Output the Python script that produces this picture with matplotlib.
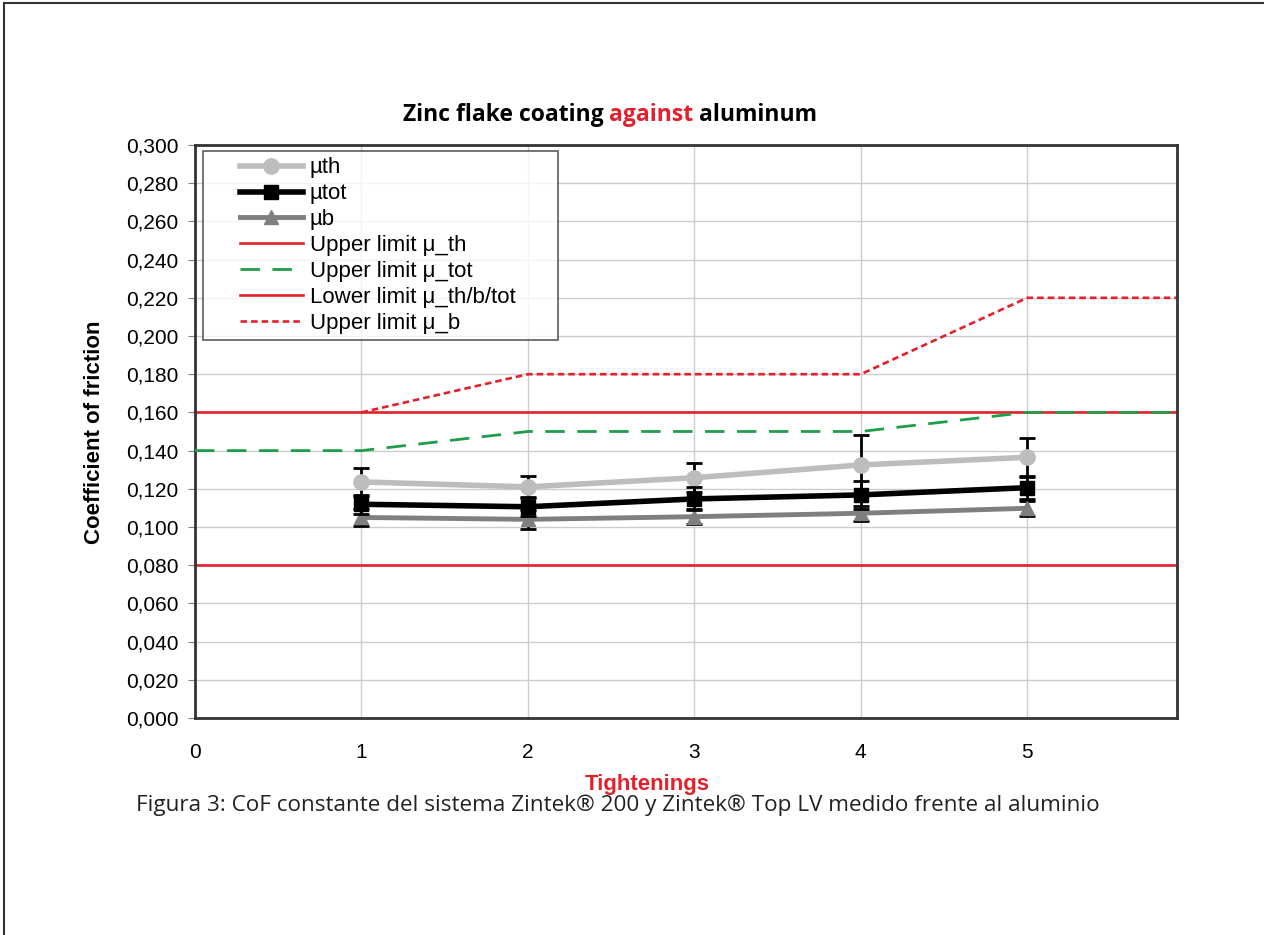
import matplotlib
matplotlib.use("Agg")
import matplotlib.pyplot as plt
from matplotlib.lines import Line2D
from matplotlib.legend_handler import HandlerLine2D
from matplotlib.ticker import FuncFormatter

# measured data (tightenings 1..5)
tightenings = [1, 2, 3, 4, 5]
mu_th = [0.1236, 0.1210, 0.1258, 0.1325, 0.1365]
mu_th_err = [0.0075, 0.0057, 0.0075, 0.0155, 0.0100]
mu_tot = [0.1119, 0.1106, 0.1147, 0.1168, 0.1206]
mu_tot_err = [0.0050, 0.0050, 0.0060, 0.0075, 0.0057]
mu_b = [0.1050, 0.1040, 0.1054, 0.1072, 0.1098]
mu_b_err = [0.0045, 0.0050, 0.0040, 0.0040, 0.0040]

# limit curves
limit_x = [0, 1, 2, 3, 4, 5, 6]
upper_th = [0.16, 0.16, 0.16, 0.16, 0.16, 0.16, 0.16]
upper_tot = [0.14, 0.14, 0.15, 0.15, 0.15, 0.16, 0.16]
lower_all = [0.08, 0.08, 0.08, 0.08, 0.08, 0.08, 0.08]
upper_b_x = [1, 2, 3, 4, 5, 6]
upper_b = [0.16, 0.18, 0.18, 0.18, 0.22, 0.22]

RED = '#e3202b'
GREEN = '#1f9e4a'
LIGHT = '#bdbdbd'
MID = '#7f7f7f'

plt.rcParams['font.family'] = ['Liberation Sans', 'DejaVu Sans']

fig = plt.figure(figsize=(12.64, 9.35), dpi=100)
ax = fig.add_axes([0.1543, 0.2321, 0.7769, 0.6128])

l_th, = ax.plot(limit_x, upper_th, color=RED, lw=1.9, zorder=2)
l_tot, = ax.plot(limit_x, upper_tot, color=GREEN, lw=2, dashes=(7, 4.5), zorder=3)
l_low, = ax.plot(limit_x, lower_all, color=RED, lw=1.9, zorder=2)
l_b, = ax.plot(upper_b_x, upper_b, color=RED, lw=1.9, dashes=(2.5, 1.5), zorder=2)

ax.errorbar(tightenings, mu_th, yerr=mu_th_err, color=LIGHT, ecolor='black', elinewidth=2,
            capsize=6, capthick=2, lw=4, marker='o', ms=11, zorder=4)
ax.errorbar(tightenings, mu_tot, yerr=mu_tot_err, color='black', ecolor='black', elinewidth=2,
            capsize=6, capthick=2, lw=4, marker='s', ms=10, zorder=5)
ax.errorbar(tightenings, mu_b, yerr=mu_b_err, color=MID, ecolor='black', elinewidth=2,
            capsize=6, capthick=2, lw=3.5, marker='^', ms=10, zorder=4)

ax.set_xlim(0, 5.9)
ax.set_ylim(0, 0.3)
ax.set_xticks([0, 1, 2, 3, 4, 5])
ax.set_yticks([i * 0.02 for i in range(16)])
ax.yaxis.set_major_formatter(FuncFormatter(lambda v, p: ('%.3f' % v).replace('.', ',')))
ax.tick_params(axis='y', labelsize=15, length=5, color='#808080', pad=7)
ax.tick_params(axis='x', labelsize=15, length=0, pad=18)
ax.grid(True, color='#cccccc', lw=1)
ax.set_axisbelow(True)
for s in ax.spines.values():
    s.set_color('#333333')
    s.set_linewidth(2)

ax.set_ylabel('Coefficient of friction', fontsize=16, fontweight='bold')
ax.yaxis.set_label_coords(-0.0916, 0.498)
ax.set_xlabel('Tightenings', fontsize=16, fontweight='bold', color=RED)
ax.xaxis.set_label_coords(0.461, -0.097)

legend_handles = [
    Line2D([], [], color=LIGHT, lw=4, marker='o', ms=11),
    Line2D([], [], color='black', lw=4, marker='s', ms=10),
    Line2D([], [], color=MID, lw=3.5, marker='^', ms=10),
    l_th, l_tot, l_low, l_b,
]
legend_labels = ['µth', 'µtot', 'µb', 'Upper limit μ_th', 'Upper limit μ_tot',
                 'Lower limit μ_th/b/tot', 'Upper limit μ_b']
leg = ax.legend(legend_handles, legend_labels, loc='upper left',
                bbox_to_anchor=(8 / 982, 0, 355 / 982, 0.99), mode='expand',
                fontsize=16, frameon=True, fancybox=False,
                handlelength=4.2, labelspacing=0.22, borderpad=0.3, handletextpad=0.3,
                borderaxespad=0, handler_map={Line2D: HandlerLine2D(xpad=1.35)})
leg.get_frame().set_edgecolor('#333333')
leg.get_frame().set_linewidth(1.2)

# title with red middle word
title_parts = [('Zinc flake coating ', 'black'), ('against', RED), (' aluminum', 'black')]
fig.canvas.draw()
renderer = fig.canvas.get_renderer()
pieces = []
for txt, col in title_parts:
    t = fig.text(0, 0.871, txt, fontsize=16.5, fontweight='bold', color=col,
                 family=['Open Sans', 'DejaVu Sans'], va='baseline', ha='left')
    pieces.append(t)
widths = [p.get_window_extent(renderer).width for p in pieces]
x0 = (610 - sum(widths) / 2) / fig.bbox.width
for p, w in zip(pieces, widths):
    p.set_x(x0)
    x0 += w / fig.bbox.width

fig.text(618 / 1264, 1 - 805 / 935, 'Figura 3: CoF constante del sistema Zintek® 200 y Zintek® Top LV medido frente al aluminio',
         fontsize=16.2, color='#222222', ha='center', va='center', family=['Open Sans', 'DejaVu Sans'])

# outer frame (top and left edges)
fig.add_artist(Line2D([0.003, 1.0], [0.9965, 0.9965], color='#333333', lw=1.5, transform=fig.transFigure))
fig.add_artist(Line2D([0.003, 0.003], [0.0, 0.9965], color='#333333', lw=1.5, transform=fig.transFigure))

fig.savefig('out.png', dpi=100)
